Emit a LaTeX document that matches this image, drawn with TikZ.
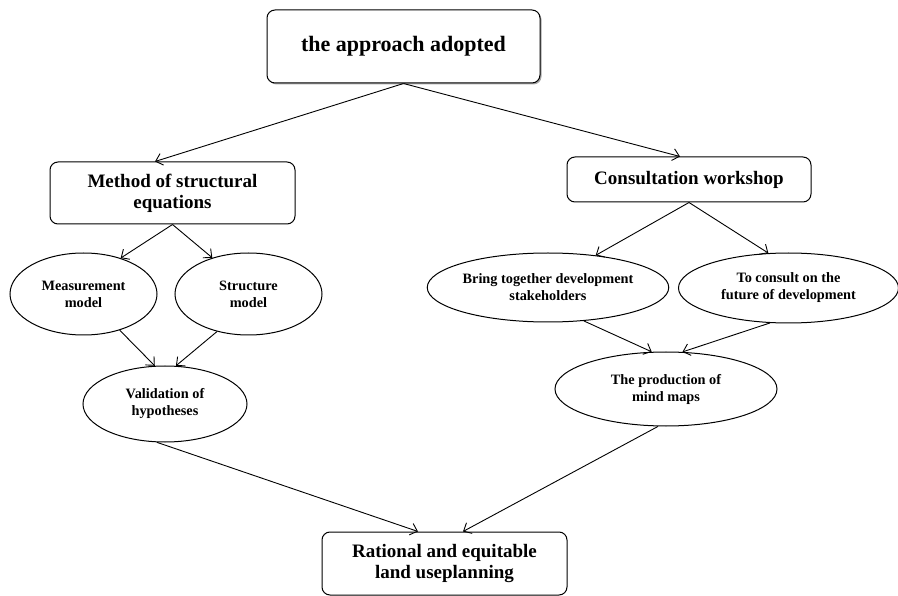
\documentclass[tikz,border=0pt]{standalone}
\usepackage{fontspec}
\setmainfont{Liberation Serif}
\usetikzlibrary{arrows.meta,shapes.geometric,shadows}
\begin{document}
\begin{tikzpicture}[x=1pt,y=-1pt,
  rbox/.style={draw,line width=1pt,rounded corners=8pt,align=center,inner sep=0pt,font=\bfseries\fontsize{19}{21}\selectfont},
  ell/.style={draw,line width=1pt,ellipse,align=center,inner sep=0pt,font=\bfseries\fontsize{14.3}{17}\selectfont},
  conn/.style={line width=0.9pt,-{Straight Barb[length=6.5pt,width=12pt,line width=0.9pt]}}]
\useasboundingbox (0,0) rectangle (898,596);
\node[rbox,minimum width=273pt,minimum height=73pt,font=\bfseries\fontsize{22}{24}\selectfont,
  drop shadow={shadow xshift=1.5pt,shadow yshift=-1.5pt,fill=gray!70,opacity=1},fill=white] (top) at (403.5,46.5) {the approach adopted};
\node[rbox,minimum width=245pt,minimum height=62pt] (method) at (172.5,193) {Method of structural\\equations};
\node[rbox,minimum width=244pt,minimum height=45pt] (consult) at (689,179.5) {Consultation workshop};
\node[rbox,minimum width=245pt,minimum height=63pt] (final) at (444.5,563.5) {Rational and equitable\\land useplanning};
\node[ell,minimum width=147pt,minimum height=82pt] (meas) at (83.5,294) {Measurement\\model};
\node[ell,minimum width=147pt,minimum height=82pt] (struc) at (248.5,294) {Structure\\model};
\node[ell,minimum width=164pt,minimum height=76pt] (valid) at (165,404) {Validation of\\hypotheses};
\node[ell,minimum width=226pt,minimum height=69pt] (bring) at (548,287.5) {Bring together development\\stakeholders};
\node[ell,minimum width=220pt,minimum height=70pt] (tocons) at (788.5,288) {To consult on the\\future of development};
\node[ell,minimum width=222pt,minimum height=74pt] (prod) at (666,389) {The production of\\mind maps};
\draw[conn] (top.south) -- ([xshift=-17.5pt]method.north);
\draw[conn] (top.south) -- ([xshift=-9pt]consult.north);
\draw[conn] (method.south) -- (meas.44);
\draw[conn] (method.south) -- (struc.135);
\draw[conn] (meas.-45) -- (valid.105);
\draw[conn] (struc.230) -- (valid.74);
\draw[conn] (valid.258) -- ([xshift=-26.5pt]final.north);
\draw[conn] (consult.south) -- (bring.34);
\draw[conn] (consult.south) -- (tocons.120);
\draw[conn] (bring.-43) -- (prod.111);
\draw[conn] (tocons.242) -- (prod.66);
\draw[conn] (prod.258) -- ([xshift=18.5pt]final.north);
\end{tikzpicture}
\end{document}
